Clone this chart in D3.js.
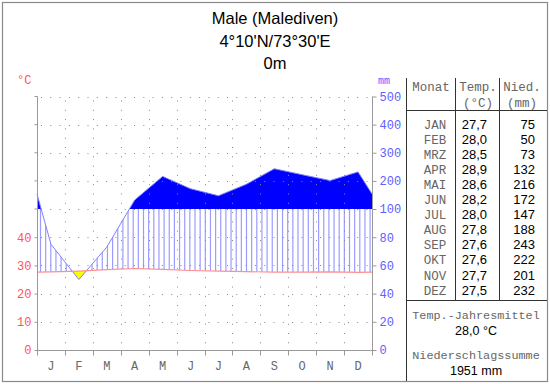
<!DOCTYPE html>
<html>
<head>
<meta charset="utf-8">
<script src="https://cdn.jsdelivr.net/npm/d3@7"></script>
<style>
  body { margin: 0; background: #fff; }
  svg { display: block; }
  .mono { font-family: "Liberation Mono", "Courier New", monospace; }
  .sans { font-family: "Liberation Sans", Arial, sans-serif; }
</style>
</head>
<body>
<svg width="550" height="384"></svg>
<script>
var title = ["Male (Malediven)", "4°10'N/73°30'E", "0m"];
var monthLetters = ["J","F","M","A","M","J","J","A","S","O","N","D"];
var monthNames = ["JAN","FEB","MRZ","APR","MAI","JUN","JUL","AUG","SEP","OKT","NOV","DEZ"];
var temps = [27.7, 28.0, 28.5, 28.9, 28.6, 28.2, 28.0, 27.8, 27.6, 27.6, 27.7, 27.5];
var precip = [75, 50, 73, 132, 216, 172, 147, 188, 243, 222, 201, 232];
var tempTicks = [0, 10, 20, 30, 40];
var precipTicks = [0, 20, 40, 60, 80, 100, 200, 300, 400, 500];

var svg = d3.select("svg");

// outer frame
svg.append("rect").attr("x", 2.5).attr("y", 2.5).attr("width", 545).attr("height", 379)
    .attr("fill", "#fff").attr("stroke", "#8a8a8a").attr("stroke-width", 1.2);

var pL = 37, pR = 372, pB = 350, pT = 96.5;

var x = d3.scaleLinear().domain([0, 12]).range([pL, pR]);
var yT = d3.scaleLinear().domain([0, 50]).range([pB, 209]);
var yP = d3.scaleLinear().domain([0, 100, 500]).range([pB, 209, pT]);

// monthly points at month centres, edges take the Dec/Jan mean
var pts = temps.map(function(t, i) { return {m: i + 0.5, t: t, p: precip[i]}; });
var edgeT = (temps[0] + temps[11]) / 2, edgeP = (precip[0] + precip[11]) / 2;
pts.unshift({m: 0, t: edgeT, p: edgeP});
pts.push({m: 12, t: edgeT, p: edgeP});

var defs = svg.append("defs");
function clip(id, area) {
    defs.append("clipPath").attr("id", id).append("path").attr("d", area(pts));
}
clip("aboveT", d3.area().x(function(d) { return x(d.m); }).y0(pT).y1(function(d) { return yT(d.t); }));
clip("belowT", d3.area().x(function(d) { return x(d.m); }).y0(pB).y1(function(d) { return yT(d.t); }));
clip("aboveP", d3.area().x(function(d) { return x(d.m); }).y0(pT).y1(function(d) { return yP(d.p); }));
clip("belowP", d3.area().x(function(d) { return x(d.m); }).y0(pB).y1(function(d) { return yP(d.p); }));

// solid blue above 100 mm
svg.append("g").attr("clip-path", "url(#belowP)")
    .append("rect").attr("x", pL).attr("y", pT)
    .attr("width", pR - pL).attr("height", yP(100) - pT)
    .attr("fill", "#0000ff");

// humid hatching
var hatchX = d3.range(pL + 3.5, pR, 5.15);
svg.append("g").attr("clip-path", "url(#belowP)")
  .append("g").attr("clip-path", "url(#aboveT)")
  .selectAll("line").data(hatchX).enter().append("line")
    .attr("x1", function(d) { return d; }).attr("x2", function(d) { return d; })
    .attr("y1", yP(100)).attr("y2", pB)
    .attr("stroke", "#9c9cff").attr("stroke-width", 1.2);

// arid area
svg.append("g").attr("clip-path", "url(#belowT)")
  .append("g").attr("clip-path", "url(#aboveP)")
  .append("rect").attr("x", pL).attr("y", pT)
    .attr("width", pR - pL).attr("height", pB - pT)
    .attr("fill", "#ffff00");

// grid
var grid = svg.append("g").attr("stroke", "#888").attr("stroke-width", 1)
    .attr("stroke-dasharray", "1,8.3");
grid.selectAll(".h").data(precipTicks.slice(1)).enter().append("line")
    .attr("x1", pL + 4).attr("x2", pR)
    .attr("y1", function(d) { return Math.round(yP(d)) + 0.5; })
    .attr("y2", function(d) { return Math.round(yP(d)) + 0.5; });
grid.selectAll(".v").data(d3.range(1, 12)).enter().append("line")
    .attr("x1", function(d) { return Math.round(x(d)) + 0.5; })
    .attr("x2", function(d) { return Math.round(x(d)) + 0.5; })
    .attr("y1", pT + 4).attr("y2", pB);

// curves
svg.append("path").datum(pts)
    .attr("d", d3.line().x(function(d) { return x(d.m); }).y(function(d) { return yP(d.p); }))
    .attr("fill", "none").attr("stroke", "#8080ff").attr("stroke-width", 1);
svg.append("path").datum(pts)
    .attr("d", d3.line().x(function(d) { return x(d.m); }).y(function(d) { return yT(d.t); }))
    .attr("fill", "none").attr("stroke", "#ff9090").attr("stroke-width", 1.2);

// axes
var axisColor = "#999";
var gL = svg.append("g").attr("transform", "translate(" + (pL + 0.5) + ",0)")
    .call(d3.axisLeft(yT).tickValues(tempTicks).tickSize(3).tickPadding(3).tickFormat(d3.format("d")));
gL.select(".domain").remove();
gL.append("line").attr("y1", pT).attr("y2", pB + 5).attr("stroke", axisColor);
gL.selectAll(".tick line").attr("stroke", axisColor);
gL.selectAll(".tick text").attr("fill", "#ff5555").attr("class", "mono").attr("font-size", 12);
svg.append("g").attr("transform", "translate(" + (pL + 0.5) + ",0)")
    .selectAll("line").data(precipTicks.slice(5)).enter().append("line")
    .attr("x1", -3).attr("x2", 0)
    .attr("y1", function(d) { return yP(d); }).attr("y2", function(d) { return yP(d); })
    .attr("stroke", axisColor);

var gR = svg.append("g").attr("transform", "translate(" + (pR + 0.5) + ",0)")
    .call(d3.axisRight(yP).tickValues(precipTicks).tickSize(4).tickPadding(3).tickFormat(d3.format("d")));
gR.select(".domain").remove();
gR.append("line").attr("y1", pT).attr("y2", pB + 5).attr("stroke", axisColor);
gR.selectAll(".tick line").attr("stroke", axisColor);
gR.selectAll(".tick text").attr("fill", "#6060ff").attr("class", "mono").attr("font-size", 12);

var gB = svg.append("g").attr("transform", "translate(0," + (pB + 0.5) + ")");
gB.append("line").attr("x1", pL).attr("x2", pR).attr("stroke", axisColor);
gB.selectAll(".t").data(d3.range(0, 13)).enter().append("line")
    .attr("x1", function(d) { return Math.round(x(d)) + 0.5; })
    .attr("x2", function(d) { return Math.round(x(d)) + 0.5; })
    .attr("y1", 0).attr("y2", 5).attr("stroke", axisColor);
gB.selectAll("text").data(monthLetters).enter().append("text")
    .attr("class", "mono").attr("font-size", 12).attr("fill", "#666")
    .attr("text-anchor", "middle")
    .attr("x", function(d, i) { return x(i + 0.5); }).attr("y", 19)
    .text(function(d) { return d; });

svg.append("text").attr("class", "mono").attr("font-size", 12).attr("fill", "#ff5555")
    .attr("x", 17).attr("y", 84).text("°C");
svg.append("text").attr("class", "mono").attr("font-size", 10).attr("fill", "#6060ff")
    .attr("x", 378).attr("y", 84).text("mm");

// title
svg.selectAll(".title").data(title).enter().append("text")
    .attr("class", "sans").attr("font-size", 16.5).attr("text-anchor", "middle")
    .attr("x", 275).attr("y", function(d, i) { return 24 + i * 22.5; })
    .text(function(d) { return d; });

// table
var tb = svg.append("g").attr("stroke", "#333").attr("stroke-width", 1);
var tL = 406.5, tR = 547, tTop = 78, tHead = 110.5, tFoot = 300.5;
tb.append("line").attr("x1", tL).attr("x2", tL).attr("y1", tTop).attr("y2", 381);
tb.append("line").attr("x1", 455.5).attr("x2", 455.5).attr("y1", tTop).attr("y2", tFoot);
tb.append("line").attr("x1", 499.5).attr("x2", 499.5).attr("y1", tTop).attr("y2", tFoot);
tb.append("line").attr("x1", tL).attr("x2", tR).attr("y1", tHead).attr("y2", tHead);
tb.append("line").attr("x1", tL).attr("x2", tR).attr("y1", tFoot).attr("y2", tFoot);

function txt(s, xx, yy, cls, anchor, size, color) {
    svg.append("text").attr("class", cls).attr("x", xx).attr("y", yy)
        .attr("text-anchor", anchor).attr("font-size", size).attr("fill", color).text(s);
}
var grey = "#666";
txt("Monat", 431, 91, "mono", "middle", 12.5, grey);
txt("Temp.", 478, 91, "mono", "middle", 12.5, grey);
txt("(°C)", 478, 107, "mono", "middle", 12.5, grey);
txt("Nied.", 522, 91, "mono", "middle", 12.5, grey);
txt("(mm)", 522, 107, "mono", "middle", 12.5, grey);

var fmt = function(v) { return d3.format(".1f")(v).replace(".", ","); };
monthNames.forEach(function(m, i) {
    var yy = 128.5 + i * 15.1;
    txt(m, 435, yy, "mono", "middle", 12.5, grey);
    txt(fmt(temps[i]), 487, yy, "sans", "end", 13, "#000");
    txt(precip[i], 535, yy, "sans", "end", 13, "#000");
});

txt("Temp.-Jahresmittel", 476, 319, "mono", "middle", 11.8, grey);
txt(fmt(d3.mean(temps)) + " °C", 476, 335, "sans", "middle", 12.5, "#000");
txt("Niederschlagssumme", 476, 359, "mono", "middle", 11.8, grey);
txt(d3.sum(precip) + " mm", 476, 375, "sans", "middle", 12.5, "#000");
</script>
</body>
</html>
